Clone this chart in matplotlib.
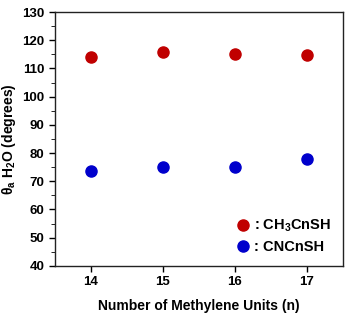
import matplotlib
matplotlib.use('Agg')
import matplotlib.pyplot as plt
from matplotlib.ticker import MultipleLocator

plt.rcParams['font.family'] = ['Liberation Sans', 'DejaVu Sans']
plt.rcParams['font.weight'] = 'bold'
plt.rcParams['mathtext.fontset'] = 'custom'
plt.rcParams['mathtext.rm'] = 'Liberation Sans:bold'
plt.rcParams['mathtext.bf'] = 'Liberation Sans:bold'
plt.rcParams['mathtext.it'] = 'Liberation Sans:bold'
plt.rcParams['mathtext.default'] = 'rm'

n_units = [14, 15, 16, 17]
ch3_vals = [114.1, 115.9, 115.1, 114.8]
ch3_err = [0.5, 0.5, 0.5, 0.5]
cn_vals = [73.8, 75.2, 74.9, 77.9]
cn_err = [0.6, 0.6, 0.6, 1.6]

fig = plt.figure(figsize=(3.47, 3.18), dpi=100)
ax = fig.add_axes([0.158, 0.164, 0.83, 0.798])

# error bars first, markers on top (markers alone go into the legend)
ax.errorbar(n_units, ch3_vals, yerr=ch3_err, fmt='none', ecolor='#C00000',
            elinewidth=1, capsize=0)
ax.errorbar(n_units, cn_vals, yerr=cn_err, fmt='none', ecolor='#0000CC',
            elinewidth=1, capsize=0)
ax.plot(n_units, ch3_vals, 'o', color='#C00000', markersize=8,
        label=': CH$_3$CnSH')
ax.plot(n_units, cn_vals, 'o', color='#0000CC', markersize=8,
        label=': CNCnSH')

ax.set_xlim(13.5, 17.5)
ax.set_ylim(40, 130)
ax.set_xticks(n_units)
ax.yaxis.set_major_locator(MultipleLocator(10))
ax.yaxis.set_minor_locator(MultipleLocator(5))
ax.tick_params(axis='both', direction='out', labelsize=9.5, width=1, length=4)
ax.tick_params(axis='y', which='minor', direction='out', length=3)
for s in ax.spines.values():
    s.set_linewidth(1)
    s.set_color('#222222')

ax.set_xlabel('Number of Methylene Units (n)', fontsize=10, fontweight='bold', labelpad=8)
ax.set_ylabel('θ$_a$ H$_2$O (degrees)', fontsize=10, fontweight='bold', labelpad=3)

ax.legend(loc='lower right', frameon=False, fontsize=10.5, handletextpad=0.0,
          handlelength=1.5, borderpad=0.3, labelspacing=0.4)

plt.savefig('out.png', dpi=100)
